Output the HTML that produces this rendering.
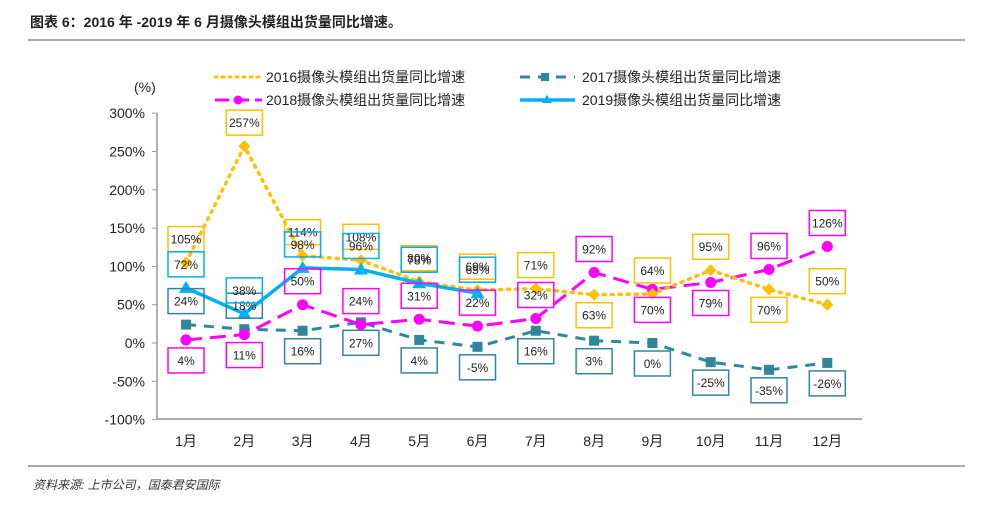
<!DOCTYPE html>
<html><head><meta charset="utf-8"><style>
body{margin:0;background:#fff;width:983px;height:513px;overflow:hidden;font-family:"Liberation Sans","Noto Sans CJK SC",sans-serif;}
svg text{font-family:"Liberation Sans","Noto Sans CJK SC",sans-serif;}
</style></head><body>
<svg id="c" width="983" height="513">
<text x="30" y="27" font-size="14" font-weight="bold" fill="#222">图表 6：2016 年 -2019 年 6 月摄像头模组出货量同比增速。</text>
<line x1="28" y1="40" x2="965" y2="40" stroke="#555" stroke-width="1"/>
<line x1="28" y1="466" x2="965" y2="466" stroke="#555" stroke-width="1"/>
<text x="33" y="489" font-size="12" font-style="italic" fill="#333">资料来源:   上市公司，国泰君安国际</text>
<text x="134" y="92" font-size="14" fill="#222">(%)</text>
<g id="legend">
<g><line x1="215" y1="77" x2="262" y2="77" stroke="#FFC000" stroke-width="3" stroke-dasharray="2 5" stroke-linecap="round"/><text x="266" y="82" font-size="14" fill="#222">2016摄像头模组出货量同比增速</text></g>
<g><line x1="520" y1="77" x2="575" y2="77" stroke="#31859C" stroke-width="3" stroke-dasharray="10 8"/><rect x="541" y="73" width="8" height="8" fill="#31859C"/><text x="582" y="82" font-size="14" fill="#222">2017摄像头模组出货量同比增速</text></g>
<g><line x1="215" y1="100" x2="262" y2="100" stroke="#FF00FF" stroke-width="3" stroke-dasharray="14 6"/><circle cx="238" cy="100" r="4.5" fill="#FF00FF"/><text x="266" y="105" font-size="14" fill="#222">2018摄像头模组出货量同比增速</text></g>
<g><line x1="520" y1="100" x2="575" y2="100" stroke="#00B0F0" stroke-width="3.5"/><path d="M547 95 L552 103 L542 103Z" fill="#00B0F0"/><text x="582" y="105" font-size="14" fill="#222">2019摄像头模组出货量同比增速</text></g>
</g>
<g id="axes"></g>
<g id="series"></g>
<g id="labels"></g>
</svg>
<script>
const categories=["1月","2月","3月","4月","5月","6月","7月","8月","9月","10月","11月","12月"];
const yTicks=[300,250,200,150,100,50,0,-50,-100];
const s2016=[105,257,114,108,80,69,71,63,64,95,70,50];
const s2017=[24,18,16,27,4,-5,16,3,0,-25,-35,-26];
const s2018=[4,11,50,24,31,22,32,92,70,79,96,126];
const s2019=[72,38,98,96,78,65];
const pos2016=["a","a","a","a","a","a","a","b","a","a","b","a"];
const pos2017=["a","a","b","b","b","b","b","b","b","b","b","b"];
const pos2018=["b","b","a","a","a","a","a","a","b","b","a","a"];
const pos2019=["a","a","a","a","a","a"];
const NS="http://www.w3.org/2000/svg";
const X=i=>186+i*58.3;
const Y=v=>343-v*0.766;
function mk(t,a,p){const e=document.createElementNS(NS,t);for(const k in a)e.setAttribute(k,a[k]);p.appendChild(e);return e;}
const ax=document.getElementById('axes');
mk('line',{x1:157,y1:113,x2:157,y2:419,stroke:'#999','stroke-width':1.5},ax);
mk('line',{x1:157,y1:419,x2:862,y2:419,stroke:'#aaa','stroke-width':2},ax);
yTicks.forEach(v=>{mk('line',{x1:152,y1:Y(v),x2:157,y2:Y(v),stroke:'#999'},ax);
const t=mk('text',{x:145,y:Y(v)+5,'font-size':14,'text-anchor':'end',fill:'#222'},ax);t.textContent=v+'%';

});
categories.forEach((c,i)=>{const t=mk('text',{x:X(i),y:446,'font-size':14,'text-anchor':'middle',fill:'#222'},ax);t.textContent=c;

});
const sg=document.getElementById('series'),lg=document.getElementById('labels');
function series(data,pos,color,dash,w,marker,name,lblColor){
 const pts=data.map((v,i)=>X(i)+','+Y(v)).join(' ');
 const pl=mk('polyline',{points:pts,fill:'none',stroke:color,'stroke-width':w,'stroke-dasharray':dash,'stroke-linecap':dash==='2 6'?'round':'butt'},sg);
 
 
 data.forEach((v,i)=>{const x=X(i),y=Y(v);let m;
  if(marker==='d')m=mk('path',{d:`M${x} ${y-6}L${x+6} ${y}L${x} ${y+6}L${x-6} ${y}Z`,fill:color},sg);
  else if(marker==='s')m=mk('rect',{x:x-5,y:y-5,width:10,height:10,fill:color},sg);
  else if(marker==='c')m=mk('circle',{cx:x,cy:y,r:5.5,fill:color},sg);
  else m=mk('path',{d:`M${x} ${y-7}L${x+7} ${y+5}L${x-7} ${y+5}Z`,fill:color},sg);
  
  
  const cy=pos[i]==='a'?y-24:y+20;
  const g=mk('g',{},lg);
  
  
  mk('rect',{x:x-18,y:cy-12,width:36,height:25,fill:'none',stroke:lblColor,'stroke-width':1.5},g);
  const t=mk('text',{x:x,y:cy+5,'font-size':12,'text-anchor':'middle',fill:'#222'},g);t.textContent=v+'%';
 });
}
series(s2017,pos2017,'#31859C','10 8',3,'s','series-2017','#31859C');
series(s2018,pos2018,'#FF00FF','16 8',3,'c','series-2018','#FF00FF');
series(s2016,pos2016,'#FFC000','2 6',3.5,'d','series-2016','#FFC000');
series(s2019,pos2019,'#00B0F0','',3.5,'t','series-2019','#00B0F0');
</script>
</body></html>
